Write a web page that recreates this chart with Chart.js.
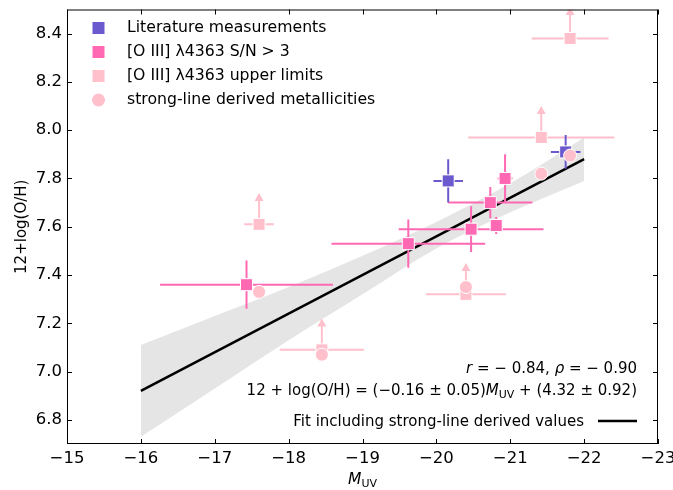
<!DOCTYPE html>
<html>
<head>
<meta charset="utf-8">
<script src="https://cdn.jsdelivr.net/npm/chart.js@4.4.0/dist/chart.umd.min.js"></script>
<style>
  html, body { margin: 0; padding: 0; background: #fff; }
</style>
</head>
<body>
<canvas id="myChart" width="673" height="490"></canvas>
<script>
// literature measurements
let litM = [-20.16, -21.75];
let litOH = [7.79, 7.91];
let litMErr = [0.20, 0.20];
let litOHErr = [0.09, 0.07];

// [O III] 4363 detections (S/N > 3)
let detM = [-17.43, -19.62, -20.47, -20.73, -20.81, -20.93];
let detOH = [7.36, 7.53, 7.59, 7.70, 7.605, 7.80];
let detMErr = [1.17, 1.04, 0.98, 0.57, 0.05, 0.10];
let detOHErr = [0.10, 0.10, 0.095, 0.065, 0.035, 0.10];

// [O III] 4363 upper limits
let ulM = [-17.60, -18.45, -20.40, -21.42, -21.81];
let ulOH = [7.61, 7.09, 7.32, 7.97, 8.38];
let ulMErr = [0.20, 0.57, 0.54, 0.99, 0.52];
let ulArrow = 0.13;

// strong-line metallicities for the same objects
let slM = [-17.60, -18.45, -20.40, -21.42, -21.81];
let slOH = [7.33, 7.07, 7.35, 7.82, 7.895];

// fit and its confidence band
let fitM = [-16, -22];
let fitOH = [6.92, 7.88];
let bandM = [-16, -17, -18, -19, -20, -21, -22];
let bandLo = [6.73, 6.93, 7.13, 7.32, 7.51, 7.66, 7.79];
let bandHi = [7.11, 7.23, 7.35, 7.48, 7.62, 7.78, 7.97];

let xTicks = [-15, -16, -17, -18, -19, -20, -21, -22, -23];
let yTicks = [6.8, 7.0, 7.2, 7.4, 7.6, 7.8, 8.0, 8.2, 8.4];

const PURPLE = '#6A5ACD';
const HOTPINK = '#FF69B4';
const LIGHTPINK = '#FFC0CB';
const FONT = '"DejaVu Sans"';

let pts = (xs, ys) => xs.map((v, i) => ({x: v, y: ys[i]}));
let minus = v => String(v).replace('-', '\u2212');

// error bars and upper-limit arrows, drawn under each dataset's markers
const errorBars = {
    id: 'errorBars',
    beforeDatasetDraw(chart, args) {
        let ds = chart.data.datasets[args.index];
        if (!ds.barColor) return;
        let {ctx, chartArea, scales: {x, y}} = chart;
        ctx.save();
        ctx.beginPath();
        ctx.rect(chartArea.left, chartArea.top, chartArea.width, chartArea.height);
        ctx.clip();
        ctx.strokeStyle = ds.barColor;
        ctx.fillStyle = ds.barColor;
        ctx.lineWidth = 2;
        ds.data.forEach((p, i) => {
            let px = x.getPixelForValue(p.x);
            let py = y.getPixelForValue(p.y);
            ctx.beginPath();
            if (ds.xErr) {
                ctx.moveTo(x.getPixelForValue(p.x - ds.xErr[i]), py);
                ctx.lineTo(x.getPixelForValue(p.x + ds.xErr[i]), py);
            }
            if (ds.yErr) {
                ctx.moveTo(px, y.getPixelForValue(p.y - ds.yErr[i]));
                ctx.lineTo(px, y.getPixelForValue(p.y + ds.yErr[i]));
            }
            let tip = null;
            if (ds.upper) {
                tip = y.getPixelForValue(p.y + ds.upper);
                ctx.moveTo(px, py);
                ctx.lineTo(px, tip + 6);
            }
            ctx.stroke();
            if (tip !== null) {
                ctx.beginPath();
                ctx.moveTo(px, tip);
                ctx.lineTo(px - 4.5, tip + 8);
                ctx.lineTo(px + 4.5, tip + 8);
                ctx.closePath();
                ctx.fill();
            }
        });
        ctx.restore();
    }
};

// text with italic / subscript pieces, right aligned at xr
function drawRuns(ctx, runs, xr, y, size) {
    let fontFor = st => st === 'i' ? `italic ${size}px ${FONT}` :
        st === 'sub' ? `${Math.round(size * 0.7)}px ${FONT}` : `${size}px ${FONT}`;
    let total = 0;
    runs.forEach(([t, st]) => { ctx.font = fontFor(st); total += ctx.measureText(t).width; });
    let x = xr - total;
    ctx.textAlign = 'left';
    ctx.textBaseline = 'alphabetic';
    runs.forEach(([t, st]) => {
        ctx.font = fontFor(st);
        ctx.fillText(t, x, st === 'sub' ? y + size * 0.22 : y);
        x += ctx.measureText(t).width;
    });
    return total;
}

const decorations = {
    id: 'decorations',
    afterDraw(chart) {
        let {ctx, chartArea: a, scales: {x, y}} = chart;
        ctx.save();
        // frame
        ctx.strokeStyle = '#000';
        ctx.lineWidth = 1;
        ctx.strokeRect(a.left + 0.5, a.top + 0.5, a.width - 1, a.height - 1);
        // inward ticks on all four sides
        ctx.beginPath();
        xTicks.forEach(v => {
            let px = Math.round(x.getPixelForValue(v)) + 0.5;
            ctx.moveTo(px, a.bottom); ctx.lineTo(px, a.bottom - 5);
            ctx.moveTo(px, a.top); ctx.lineTo(px, a.top + 5);
        });
        yTicks.forEach(v => {
            let py = Math.round(y.getPixelForValue(v)) + 0.5;
            ctx.moveTo(a.left, py); ctx.lineTo(a.left + 5, py);
            ctx.moveTo(a.right, py); ctx.lineTo(a.right - 5, py);
        });
        ctx.stroke();

        ctx.fillStyle = '#000';
        // axis titles
        ctx.save();
        ctx.translate(22, (a.top + a.bottom) / 2);
        ctx.rotate(-Math.PI / 2);
        ctx.font = `15px ${FONT}`;
        ctx.textAlign = 'center';
        ctx.textBaseline = 'middle';
        ctx.fillText('12+log(O/H)', 0, 0);
        ctx.restore();
        ctx.font = `italic 15.5px ${FONT}`;
        let wM = ctx.measureText('M').width;
        ctx.font = `11px ${FONT}`;
        let wUV = ctx.measureText('UV').width;
        let cx = (a.left + a.right) / 2 - (wM + wUV) / 2;
        drawRuns(ctx, [['M', 'i'], ['UV', 'sub']], cx + wM + wUV, 484, 15.5);

        // legend
        let legend = [
            ['rect', PURPLE, 'Literature measurements'],
            ['rect', HOTPINK, '[O III] \u03bb4363 S/N > 3'],
            ['rect', LIGHTPINK, '[O III] \u03bb4363 upper limits'],
            ['circle', LIGHTPINK, 'strong-line derived metallicities'],
        ];
        legend.forEach(([shape, col, label], i) => {
            let ly = 28 + i * 24;
            ctx.fillStyle = col;
            if (shape === 'rect') {
                ctx.fillRect(92.5, ly - 6, 12, 12);
            } else {
                ctx.beginPath();
                ctx.arc(98.5, ly, 6.5, 0, Math.PI * 2);
                ctx.fill();
            }
            ctx.fillStyle = '#000';
            ctx.font = `15.7px ${FONT}`;
            ctx.textAlign = 'left';
            ctx.textBaseline = 'middle';
            ctx.fillText(label, 127, ly);
        });

        // correlation and fit text
        drawRuns(ctx, [['r', 'i'], [' = \u2212 0.84, ', 'n'], ['\u03c1', 'i'], [' = \u2212 0.90', 'n']], 637, 373, 15);
        drawRuns(ctx, [['12 + log(O/H) = (\u22120.16 \u00b1 0.05)', 'n'], ['M', 'i'], ['UV', 'sub'],
            [' + (4.32 \u00b1 0.92)', 'n']], 637, 395, 15);
        drawRuns(ctx, [['Fit including strong-line derived values', 'n']], 584, 426, 15);
        ctx.strokeStyle = '#000';
        ctx.lineWidth = 2.5;
        ctx.beginPath();
        ctx.moveTo(598, 421);
        ctx.lineTo(637, 421);
        ctx.stroke();
        ctx.restore();
    }
};

let data = {
    datasets: [
        {
            type: 'line', data: pts(bandM, bandHi), order: 10,
            borderWidth: 0, pointRadius: 0, fill: '+1', backgroundColor: '#e5e5e5',
            cubicInterpolationMode: 'monotone',
        },
        {
            type: 'line', data: pts(bandM, bandLo), order: 10,
            borderWidth: 0, pointRadius: 0, fill: false,
            cubicInterpolationMode: 'monotone',
        },
        {
            type: 'line', data: pts(fitM, fitOH), order: 9,
            borderColor: '#000', borderWidth: 2.5, pointRadius: 0, fill: false,
        },
        {
            data: pts(ulM, ulOH), order: 5, xErr: ulMErr, upper: ulArrow, barColor: LIGHTPINK,
            pointStyle: 'rect', pointRadius: 8.5, backgroundColor: LIGHTPINK,
            borderColor: '#fff', borderWidth: 1,
        },
        {
            data: pts(detM, detOH), order: 4, xErr: detMErr, yErr: detOHErr, barColor: HOTPINK,
            pointStyle: 'rect', pointRadius: 8.5, backgroundColor: HOTPINK,
            borderColor: '#fff', borderWidth: 1,
        },
        {
            data: pts(litM, litOH), order: 3, xErr: litMErr, yErr: litOHErr, barColor: PURPLE,
            pointStyle: 'rect', pointRadius: 8.5, backgroundColor: PURPLE,
            borderColor: '#fff', borderWidth: 1,
        },
        {
            data: pts(slM, slOH), order: 1,
            pointStyle: 'circle', pointRadius: 6.5, backgroundColor: LIGHTPINK,
            borderColor: '#fff', borderWidth: 1,
        },
    ]
};

let config = {
    type: 'scatter',
    data: data,
    options: {
        responsive: false,
        animation: false,
        devicePixelRatio: 1,
        layout: {padding: {left: 0, right: 15, top: 8, bottom: 0}},
        plugins: {legend: {display: false}, tooltip: {enabled: false}},
        scales: {
            x: {
                min: -23, max: -15, reverse: true,
                grid: {display: false, drawTicks: false},
                border: {display: false},
                ticks: {
                    autoSkip: false, maxRotation: 0, padding: 5, color: '#000',
                    font: {family: 'DejaVu Sans', size: 16.5},
                    callback: v => minus(v),
                },
                afterBuildTicks: s => { s.ticks = xTicks.map(v => ({value: v})); },
                afterFit: s => { s.height = 46; s.paddingLeft = 0; s.paddingRight = 0; },
            },
            y: {
                min: 6.7, max: 8.5,
                grid: {display: false, drawTicks: false},
                border: {display: false},
                ticks: {
                    autoSkip: false, padding: 5, color: '#000',
                    font: {family: 'DejaVu Sans', size: 16.5},
                    callback: v => v.toFixed(1),
                },
                afterBuildTicks: s => { s.ticks = yTicks.map(v => ({value: v})); },
                afterFit: s => { s.width = 67; s.paddingTop = 0; s.paddingBottom = 0; },
            },
        },
    },
    plugins: [errorBars, decorations],
};

let myChart = new Chart(document.getElementById('myChart'), config);
</script>
</body>
</html>
